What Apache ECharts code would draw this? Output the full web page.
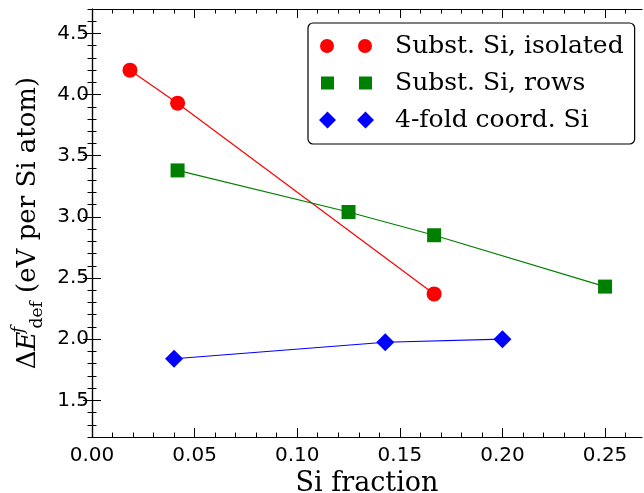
<!DOCTYPE html>
<html>
<head>
<meta charset="utf-8">
<script src="https://cdn.jsdelivr.net/npm/echarts@6/dist/echarts.min.js"></script>
<style>
  html, body { margin: 0; padding: 0; background: #fff; }
  #chart { width: 644px; height: 493px; }
</style>
</head>
<body>
<div id="chart"></div>
<script>
// data
var isolated_x = [0.0185, 0.0417, 0.1667];
var isolated_y = [4.20, 3.93, 2.37];
var rows_x = [0.0417, 0.125, 0.1667, 0.25];
var rows_y = [3.38, 3.04, 2.85, 2.43];
var fourfold_x = [0.04, 0.1429, 0.20];
var fourfold_y = [1.84, 1.975, 2.00];

var series_names = ['Subst. Si, isolated', 'Subst. Si, rows', '4-fold coord. Si'];

var x_major = [0.00, 0.05, 0.10, 0.15, 0.20, 0.25];
var y_major = [1.5, 2.0, 2.5, 3.0, 3.5, 4.0, 4.5];
var x_minor = [];
for (var i = 1; i <= 26; i++) { if (i % 5) x_minor.push(i / 100); }
var y_minor = [];
for (var j = 12; j <= 47; j++) { if (j % 5) y_minor.push(j / 10); }

var X_MIN = 0, X_MAX = 0.268, Y_MIN = 1.2, Y_MAX = 4.7;

function pairs(xs, ys) {
    return xs.map(function (x, k) { return [x, ys[k]]; });
}

var box_line = { show: true, lineStyle: { color: '#000', width: 1.2 } };

function x_axis(position, ticks, len, labels) {
    return {
        type: 'value', position: position, min: X_MIN, max: X_MAX,
        axisLine: ticks === x_major ? box_line : { show: false },
        axisTick: { show: true, inside: true, length: len, customValues: ticks,
                    lineStyle: { color: '#000', width: 1 } },
        axisLabel: labels ? {
            show: true, customValues: x_major, margin: 9,
            fontFamily: 'DejaVu Sans', fontSize: 20, color: '#000',
            formatter: function (v) { return v.toFixed(2); }
        } : { show: false },
        splitLine: { show: false }
    };
}

function y_axis(position, ticks, len, labels) {
    return {
        type: 'value', position: position, min: Y_MIN, max: Y_MAX,
        axisLine: ticks === y_major ? box_line : { show: false },
        axisTick: { show: true, inside: true, length: len, customValues: ticks,
                    lineStyle: { color: '#000', width: 1 } },
        axisLabel: labels ? {
            show: true, customValues: y_major, margin: 3,
            fontFamily: 'DejaVu Sans', fontSize: 20, color: '#000',
            formatter: function (v) { return v.toFixed(1); }
        } : { show: false },
        splitLine: { show: false }
    };
}

var xaxes = [
    x_axis('bottom', x_major, 9, true),
    x_axis('bottom', x_minor, 4.5, false),
    x_axis('top', x_major, 9, false),
    x_axis('top', x_minor, 4.5, false)
];
xaxes[0].name = 'Si fraction';
xaxes[0].nameLocation = 'middle';
xaxes[0].nameGap = 30;
xaxes[0].nameTextStyle = { fontFamily: 'DejaVu Serif', fontSize: 27, color: '#000' };

var yaxes = [
    y_axis('left', y_major, 9, true),
    y_axis('left', y_minor, 4.5, false),
    y_axis('right', y_major, 9, false),
    y_axis('right', y_minor, 4.5, false)
];
yaxes[0].name = '{n|Δ}{i|E}{sup|f}{sub|def}{n| (eV per Si atom)}';
yaxes[0].nameLocation = 'middle';
yaxes[0].nameRotate = 90;
yaxes[0].nameGap = 46;
yaxes[0].nameTextStyle = {
    fontFamily: 'DejaVu Serif', fontSize: 26, color: '#000',
    rich: {
        n: { fontFamily: 'DejaVu Serif', fontSize: 26, lineHeight: 36, color: '#000' },
        i: { fontFamily: 'DejaVu Serif', fontStyle: 'italic', fontSize: 26, lineHeight: 36, color: '#000' },
        sup: { fontFamily: 'DejaVu Serif', fontStyle: 'italic', fontSize: 17, verticalAlign: 'top', width: 3, color: '#000' },
        sub: { fontFamily: 'DejaVu Serif', fontSize: 17, verticalAlign: 'bottom', color: '#000' }
    }
};

// two markers side by side, as in the matplotlib legend; leading moves fix the bounding box
var legend_icons = [
    'path://M0,0M55,17M1,8.5a7,7 0 1,0 14,0a7,7 0 1,0 -14,0M39,8.5a7,7 0 1,0 14,0a7,7 0 1,0 -14,0',
    'path://M0,0M55,17M2,2h13v13h-13zM40,2h13v13h-13z',
    'path://M0,0M55,17M0,8.5L8.5,0L17,8.5L8.5,17zM38,8.5L46.5,0L55,8.5L46.5,17z'
];

var chart = echarts.init(document.getElementById('chart'), null, { renderer: 'canvas' });
chart.setOption({
    animation: false,
    backgroundColor: '#fff',
    grid: { left: 92, right: 2, top: 9, bottom: 56, containLabel: false, outerBoundsMode: 'none' },
    legend: {
        orient: 'vertical', left: 308, top: 23,
        padding: [10, 11, 11, 11],
        itemWidth: 55, itemHeight: 17, itemGap: 11,
        borderColor: '#000', borderWidth: 1.2, borderRadius: 5, backgroundColor: '#fff',
        textStyle: { fontFamily: 'DejaVu Serif', fontSize: 25, color: '#000', lineHeight: 26, padding: [0, 0, 0, 16] },
        data: series_names.map(function (n, k) { return { name: n, icon: legend_icons[k] }; })
    },
    xAxis: xaxes,
    yAxis: yaxes,
    series: [
        {
            name: series_names[0], type: 'line', data: pairs(isolated_x, isolated_y),
            symbol: 'circle', symbolSize: 15,
            itemStyle: { color: '#ff0000' }, lineStyle: { color: '#ff0000', width: 1.2 }
        },
        {
            name: series_names[1], type: 'line', data: pairs(rows_x, rows_y),
            symbol: 'rect', symbolSize: 14,
            itemStyle: { color: '#008000' }, lineStyle: { color: '#008000', width: 1.2 }
        },
        {
            name: series_names[2], type: 'line', data: pairs(fourfold_x, fourfold_y),
            symbol: 'diamond', symbolSize: [18, 18],
            itemStyle: { color: '#0000ff' }, lineStyle: { color: '#0000ff', width: 1.2 }
        }
    ]
});
</script>
</body>
</html>
